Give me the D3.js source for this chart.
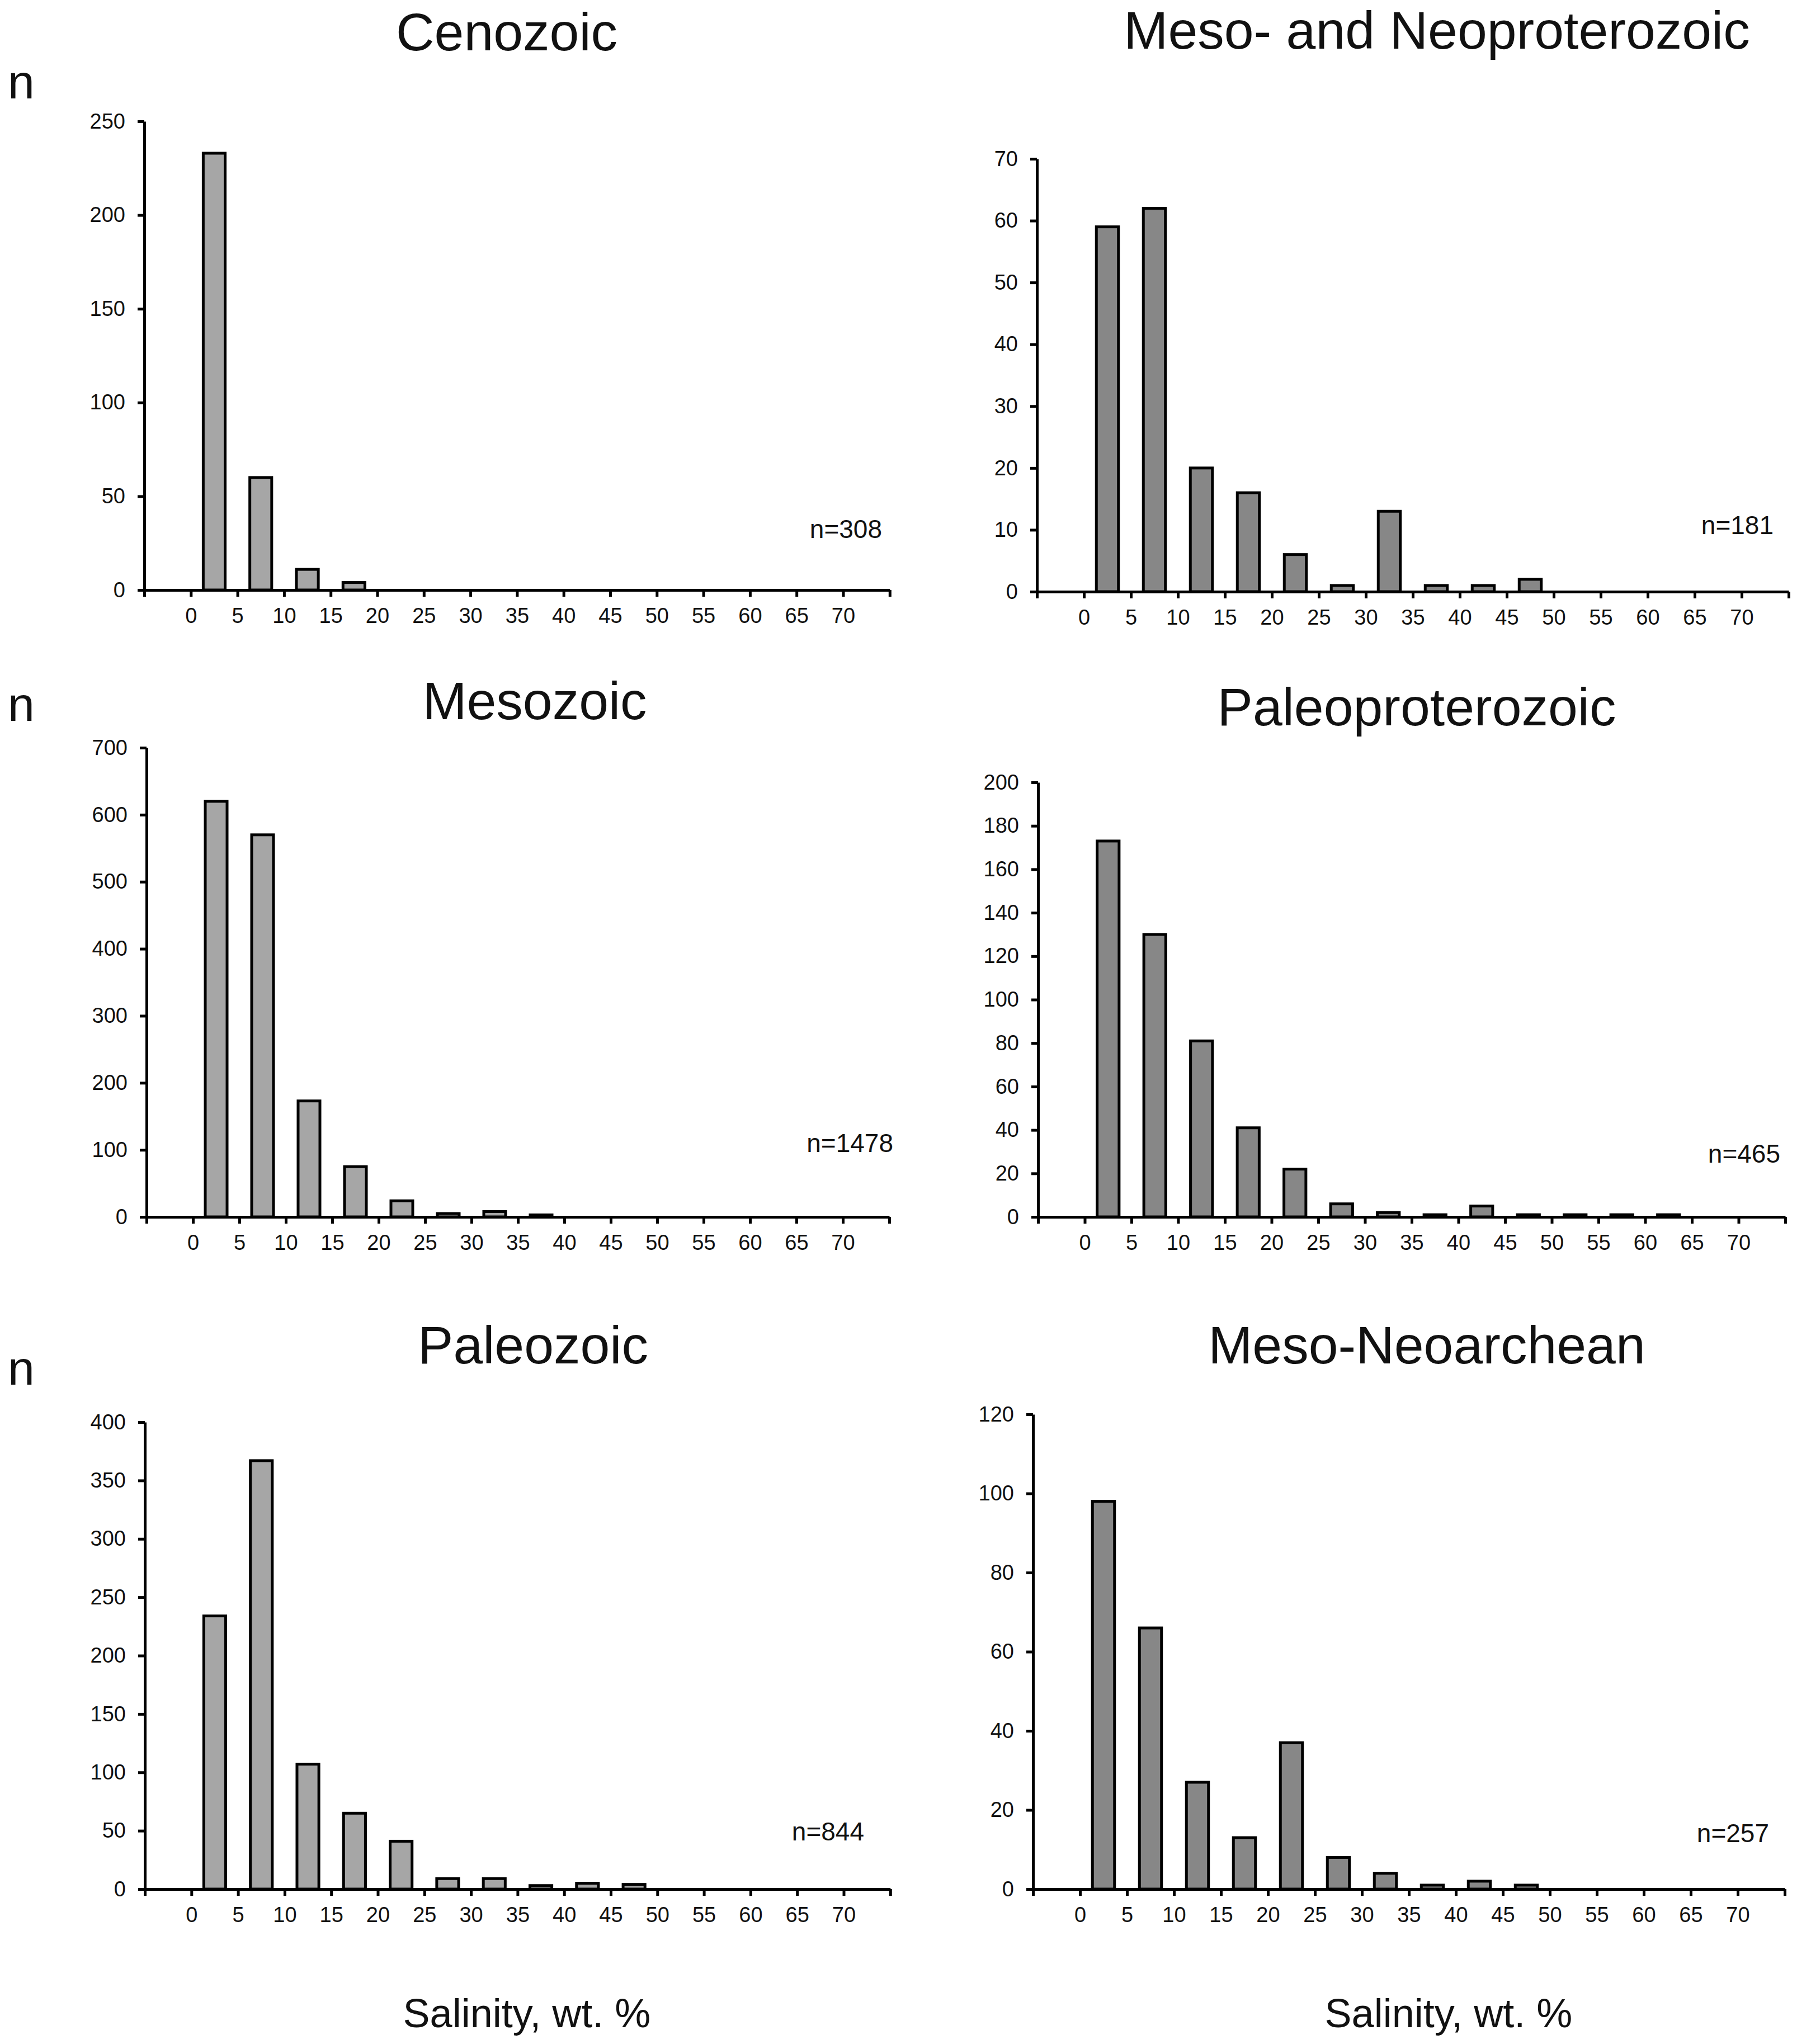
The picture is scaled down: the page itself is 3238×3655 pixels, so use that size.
<!DOCTYPE html>
<html>
<head>
<meta charset="utf-8">
<script src="https://cdn.jsdelivr.net/npm/d3@7"></script>
<style>
  body { margin: 0; background: #fff; }
  text { font-family: "Liberation Sans", Arial, sans-serif; fill: #111; }
</style>
</head>
<body>
<div id="chart"></div>
<script>
var w = 3238;
var h = 3655;

// salinity bins, wt. % (lower edge of each 5 % bin)
var binStarts = [0, 5, 10, 15, 20, 25, 30, 35, 40, 45, 50, 55, 60, 65, 70];

// counts per bin
var cenozoic           = [233, 60, 11, 4];
var mesoNeoproterozoic = [59, 62, 20, 16, 6, 1, 13, 1, 1, 2];
var mesozoic           = [620, 570, 173, 75, 24, 5, 8, 3];
var paleoproterozoic   = [173, 130, 81, 41, 22, 6, 2, 1, 5, 1, 1, 1, 1];
var paleozoic          = [234, 367, 107, 65, 41, 9, 9, 3, 5, 4];
var mesoNeoarchean     = [98, 66, 27, 13, 37, 8, 4, 1, 2, 1];

var titles = ["Cenozoic", "Meso- and Neoproterozoic", "Mesozoic",
              "Paleoproterozoic", "Paleozoic", "Meso-Neoarchean"];
var totals = ["n=308", "n=181", "n=1478", "n=465", "n=844", "n=257"];
var yMax   = [250, 70, 700, 200, 400, 120];
var yStep  = [50, 10, 100, 20, 50, 20];
var series = [cenozoic, mesoNeoproterozoic, mesozoic,
              paleoproterozoic, paleozoic, mesoNeoarchean];

// panel geometry in page pixels
var layout = [
  {ax: 258,  top: 217,  zero: 1055, step: 83.3, tx: 906,  ty: 90,   nx: 1577, ny: 962,  fill: "#a6a6a6"},
  {ax: 1854, top: 284,  zero: 1058, step: 84,   tx: 2569, ty: 87,   nx: 3171, ny: 955,  fill: "#878787"},
  {ax: 262,  top: 1337, zero: 2176, step: 83,   tx: 956,  ty: 1286, nx: 1597, ny: 2060, fill: "#a6a6a6"},
  {ax: 1856, top: 1399, zero: 2176, step: 83.5, tx: 2533, ty: 1297, nx: 3183, ny: 2079, fill: "#878787"},
  {ax: 259,  top: 2543, zero: 3378, step: 83.3, tx: 953,  ty: 2438, nx: 1545, ny: 3291, fill: "#a6a6a6"},
  {ax: 1847, top: 2529, zero: 3378, step: 84,   tx: 2551, ty: 2438, nx: 3163, ny: 3294, fill: "#878787"}
];

var svg = d3.select("#chart")
            .append("svg")
            .attr("width", w)
            .attr("height", h);

svg.append("rect")
   .attr("width", w)
   .attr("height", h)
   .attr("fill", "#fff");

layout.forEach(function(p, i) {
  var xScale = d3.scaleLinear()
                 .domain([-5, 75])
                 .range([0, 16 * p.step]);

  var yScale = d3.scaleLinear()
                 .domain([0, yMax[i]])
                 .range([p.zero - p.top, 0]);

  var g = svg.append("g")
             .attr("transform", "translate(" + p.ax + "," + p.top + ")");

  var data = series[i].map(function(v, j) {
    return {bin: binStarts[j], count: v};
  }).filter(function(d) { return d.count > 0; });

  var barW = p.step * 0.47;

  g.append("g")
   .attr("class", "bars")
   .selectAll("rect")
   .data(data)
   .enter()
   .append("rect")
   .attr("x", function(d) { return xScale(d.bin + 2.5) - barW / 2; })
   .attr("y", function(d) { return yScale(d.count); })
   .attr("width", barW)
   .attr("height", function(d) { return yScale(0) - yScale(d.count); })
   .attr("fill", p.fill)
   .attr("stroke", "#000")
   .attr("stroke-width", 5);

  var xAxis = d3.axisBottom()
                .scale(xScale)
                .tickValues(d3.range(-5, 80, 5))
                .tickSize(12)
                .tickSizeOuter(0)
                .tickPadding(20)
                .tickFormat(function(d) { return (d < 0 || d > 70) ? "" : d; });

  var yAxis = d3.axisLeft()
                .scale(yScale)
                .tickValues(d3.range(0, yMax[i] + 1, yStep[i]))
                .tickSize(12)
                .tickSizeOuter(0)
                .tickPadding(22);

  var gx = g.append("g")
            .attr("class", "x axis")
            .attr("transform", "translate(0," + (p.zero - p.top) + ")")
            .call(xAxis);

  var gy = g.append("g")
            .attr("class", "y axis")
            .call(yAxis);

  [gx, gy].forEach(function(a) {
    a.select(".domain").attr("stroke", "#000").attr("stroke-width", 5);
    a.selectAll(".tick line").attr("stroke", "#000").attr("stroke-width", 5);
    a.selectAll(".tick text")
     .attr("fill", "#111")
     .style("font-family", "'Liberation Sans', Arial, sans-serif")
     .style("font-size", "38px");
  });

  svg.append("text")
     .attr("x", p.tx)
     .attr("y", p.ty)
     .attr("text-anchor", "middle")
     .style("font-size", "95px")
     .text(titles[i]);

  svg.append("text")
     .attr("x", p.nx)
     .attr("y", p.ny)
     .attr("text-anchor", "end")
     .style("font-size", "46px")
     .text(totals[i]);
});

// "n" labels on the left column
[176, 1289, 2476].forEach(function(y) {
  svg.append("text")
     .attr("x", 14)
     .attr("y", y)
     .style("font-size", "86px")
     .text("n");
});

// x axis titles under the bottom row
[942, 2590].forEach(function(x) {
  svg.append("text")
     .attr("x", x)
     .attr("y", 3625)
     .attr("text-anchor", "middle")
     .style("font-size", "72px")
     .text("Salinity, wt. %");
});
</script>
</body>
</html>
